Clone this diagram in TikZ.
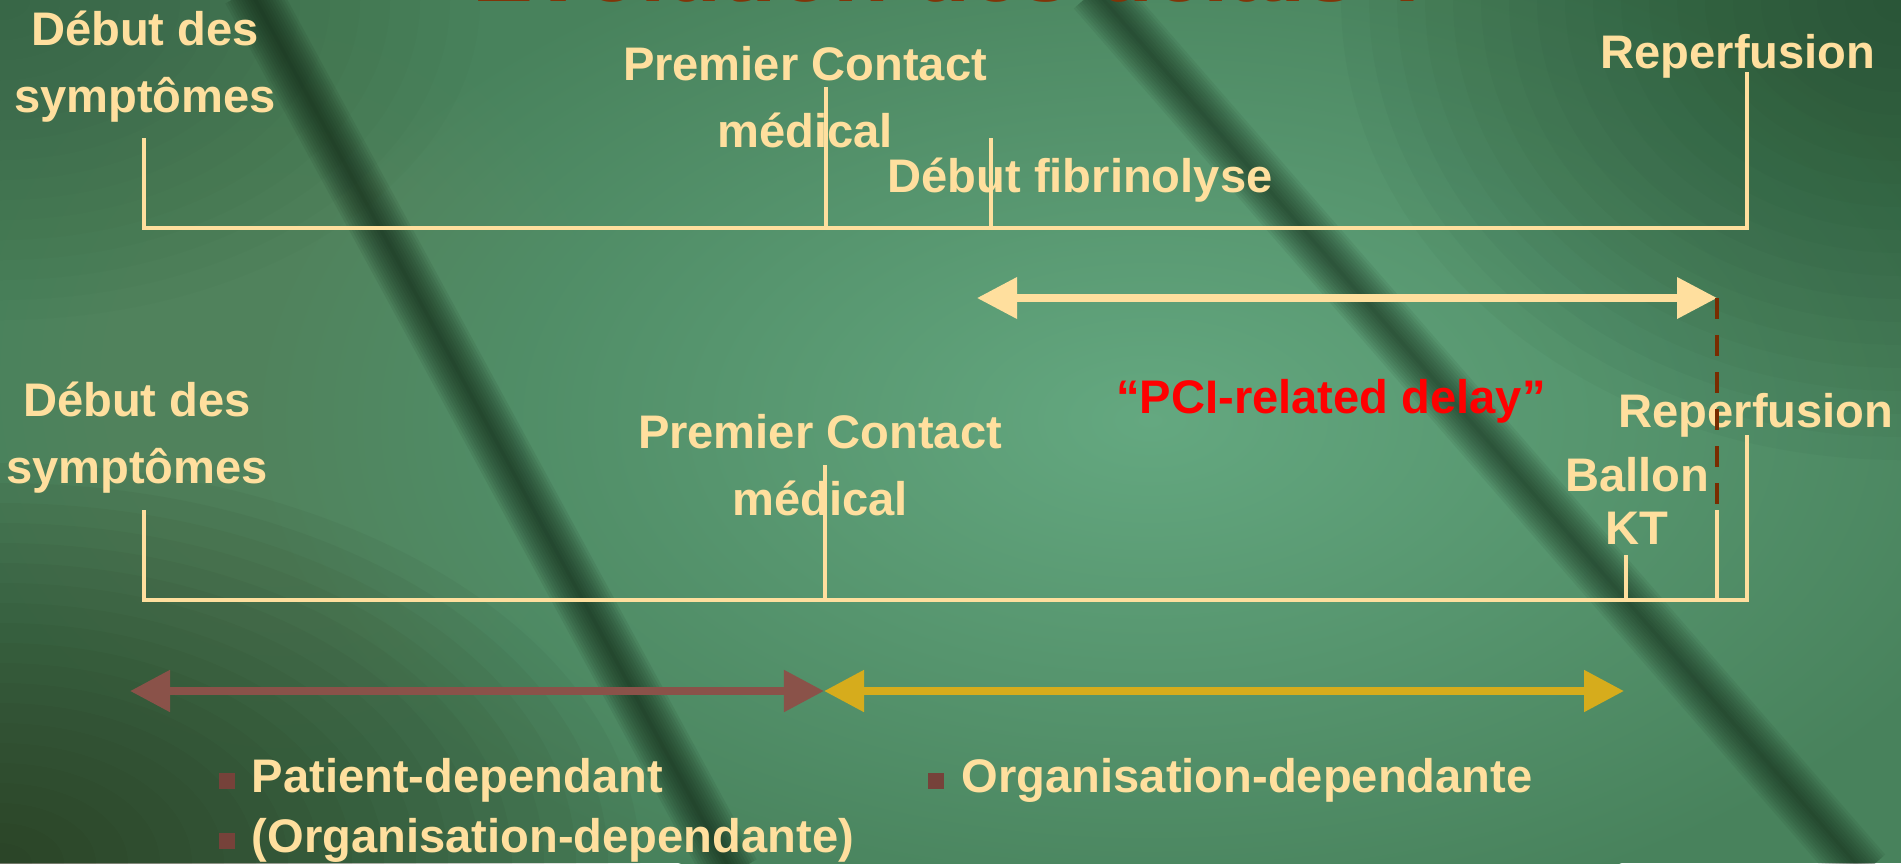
\documentclass[tikz,border=0pt]{standalone}
\usepackage{fontspec}
\setmainfont{Liberation Sans}
\usetikzlibrary{arrows.meta, positioning, calc}

\definecolor{cream}{RGB}{255,223,158}
\definecolor{pcired}{RGB}{255,0,0}
\definecolor{dashbrown}{RGB}{120,44,0}
\definecolor{patbrown}{RGB}{138,82,73}
\definecolor{orggold}{RGB}{214,172,28}
\definecolor{bullbrown}{RGB}{118,66,58}
\definecolor{titlebrown}{RGB}{128,52,8}
\definecolor{bgmid}{RGB}{72,130,92}
\definecolor{bglight}{RGB}{100,168,128}
\definecolor{bgleft}{RGB}{108,156,106}
\definecolor{bgdark}{RGB}{30,66,40}
\definecolor{bgolive}{RGB}{36,46,22}
\definecolor{bgband}{RGB}{18,40,22}

\begin{document}
\begin{tikzpicture}[x=0.01cm, y=-0.01cm,
    lbl/.style={text=cream, font=\fontsize{13.4pt}{18.8pt}\selectfont\bfseries, align=center, inner sep=0pt, anchor=base},
    axis/.style={draw=cream, line width=1.15pt},
    bigtip/.style={{Triangle[length=0.4cm, width=0.4cm]}-{Triangle[length=0.4cm, width=0.4cm]}},
    bullet/.style={fill=bullbrown, inner sep=0pt, minimum size=0.16cm}
  ]
  \useasboundingbox (0,0) rectangle (1901,863);

  % background
  \fill[bgmid] (0,0) rectangle (1901,863);
  \shade[inner color=bglight, outer color=bgmid] (1150,420) ellipse (900 and 520);
  \foreach \r in {1,...,16}
    \fill[bgleft, opacity=0.035] (280,380) ellipse ({20*\r} and {23*\r});
  \foreach \r in {1,...,20}
    \fill[bgolive, opacity=0.05] (0,863) ellipse ({32*\r} and {20*\r});
  \foreach \r in {1,...,20}
    \fill[bgdark, opacity=0.045] (1901,0) ellipse ({28*\r} and {23*\r});
  \foreach \r in {1,...,16}
    \fill[bgdark, opacity=0.025] (0,0) ellipse ({30*\r} and {20*\r});
  % folds
  \foreach \w in {1,2.5,...,17}{
    \draw[bgband, line width=\w pt, opacity=0.09] (250,-10) -- (732,873);
    \draw[bgband, line width=\w pt, opacity=0.075] (1095,-10) -- (1864,873);
  }

  % title, cut at the top
  \begin{scope}
    \clip (0,0) rectangle (1901,863);
    \node[font=\fontsize{26pt}{30pt}\selectfont\bfseries, text=titlebrown, inner sep=0pt, anchor=base] (title) at (955,1) {Évolution des délais ?};
  \end{scope}

  % upper time line
  \node[lbl] (usym) at (145,112) {Début des\\symptômes};
  \node[lbl] (upcm) at (805,147) {Premier Contact\\médical};
  \node[lbl] (ufib) at (1080,192) {Début fibrinolyse};
  \node[lbl] (urep) at (1738,68) {Reperfusion};
  \coordinate (ua) at (144,228);
  \coordinate (ub) at (1747,228);
  \coordinate (usymt) at (144,138);
  \coordinate (upcmt) at (826,87);
  \coordinate (ufibt) at (991,138);
  \coordinate (urept) at (1747,72);
  \draw[axis] (usymt) -- (ua) -- (ub) -- (urept);
  \draw[axis] (upcmt) -- (upcmt |- ua);
  \draw[axis] (ufibt) -- (ufibt |- ua);

  % PCI delay
  \coordinate (pcil) at (977,298);
  \coordinate (pcir) at (1717,298);
  \draw[cream, line width=2pt, bigtip] (pcil) -- (pcir);
  \node[lbl, text=pcired] (pci) at (1331,413) {“PCI-related delay”};

  % lower time line
  \node[lbl] (lsym) at (137,483) {Début des\\symptômes};
  \node[lbl] (lpcm) at (820,515) {Premier Contact\\médical};
  \node[lbl, font=\fontsize{13.4pt}{14.8pt}\selectfont\bfseries] (lkt) at (1637,544) {Ballon\\KT};
  \node[lbl] (lrep) at (1756,427) {Reperfusion};
  \coordinate (la) at (144,600);
  \coordinate (lb) at (1747,600);
  \coordinate (lsymt) at (144,510);
  \coordinate (lpcmt) at (825,465);
  \coordinate (lktt) at (1626,555);
  \coordinate (lballt) at (1717,510);
  \coordinate (lrept) at (1747,435);
  \draw[axis] (lsymt) -- (la) -- (lb) -- (lrept);
  \draw[axis] (lpcmt) -- (lpcmt |- la);
  \draw[axis] (lktt) -- (lktt |- la);
  \draw[axis] (lballt) -- (lballt |- la);
  \draw[dashbrown, line width=1.4pt, dash pattern=on 0.21cm off 0.16cm] (pcir) -- (1717,508);

  % who is responsible
  \coordinate (pat) at (130,691);
  \coordinate (fmc) at (824,691);
  \coordinate (kt) at (1624,691);
  \draw[patbrown, line width=2.3pt, bigtip] (pat) -- (fmc);
  \draw[orggold, line width=2.3pt, bigtip] (fmc) -- (kt);

  \node[lbl, anchor=base west] (leg1) at (251,792) {Patient-dependant};
  \node[lbl, anchor=base west] (leg2) at (251,852) {(Organisation-dependante)};
  \node[lbl, anchor=base west] (leg3) at (961,792) {Organisation-dependante};
  \node[bullet] (bul1) at ($(leg1.base west)+(-24,-11)$) {};
  \node[bullet] (bul2) at ($(leg2.base west)+(-24,-11)$) {};
  \node[bullet] (bul3) at ($(leg3.base west)+(-25,-11)$) {};
\end{tikzpicture}
\end{document}
